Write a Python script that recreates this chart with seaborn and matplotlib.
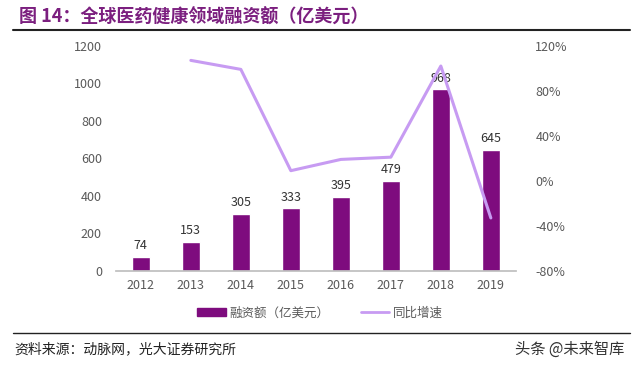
import numpy as np
import pandas as pd
import matplotlib
matplotlib.use("Agg")
import matplotlib.pyplot as plt
from matplotlib.lines import Line2D
from matplotlib.patches import Patch
import seaborn as sns

years = ["2012", "2013", "2014", "2015", "2016", "2017", "2018", "2019"]
financing = [74, 153, 305, 333, 395, 479, 968, 645]
growth_years = ["2013", "2014", "2015", "2016", "2017", "2018", "2019"]
growth = [107, 99, 9, 19, 21, 102, -33]

bar_color = "#7E0C7E"
line_color = "#C79BF2"
tick_color = "#595959"

sns.set_theme(style="white")
plt.rcParams['font.family'] = ['Noto Sans CJK SC', 'DejaVu Sans']

fig = plt.figure(figsize=(6.4, 3.66), dpi=100)
ax = fig.add_axes([0.181, 0.26, 0.625, 0.615])

df = pd.DataFrame({"year": years, "value": financing})
sns.barplot(data=df, x="year", y="value", color=bar_color, width=0.36,
            saturation=1, ax=ax)
for i, v in enumerate(financing):
    ax.text(i, v + 25, str(v), ha="center", va="bottom", fontsize=9, color="#333333")

ax.set_ylim(0, 1200)
ax.set_yticks(range(0, 1201, 200))
ax.set_xlim(-0.5, 7.5)
ax.set_xlabel("")
ax.set_ylabel("")
for s in ["top", "right", "left"]:
    ax.spines[s].set_visible(False)
ax.spines["bottom"].set_color("#BFBFBF")
ax.tick_params(axis="y", colors=tick_color, labelsize=9, length=0, pad=10)
ax.tick_params(axis="x", colors=tick_color, labelsize=9, length=0, pad=6)
ax.set_xticks(np.arange(-0.5, 8, 1), minor=True)
ax.tick_params(axis="x", which="minor", length=4, color="#BFBFBF", direction="out")

ax2 = ax.twinx()
gdf = pd.DataFrame({"pos": [years.index(y) for y in growth_years], "growth": growth})
sns.lineplot(data=gdf, x="pos", y="growth", color=line_color, linewidth=2.2, ax=ax2)
ax2.set_ylim(-80, 120)
ax2.set_yticks(range(-80, 121, 40))
ax2.set_yticklabels([f"{t}%" for t in range(-80, 121, 40)])
ax2.set_xlim(-0.5, 7.5)
ax2.set_ylabel("")
ax2.set_xlabel("")
for s in ["top", "right", "left", "bottom"]:
    ax2.spines[s].set_visible(False)
ax2.tick_params(axis="y", colors=tick_color, labelsize=9, length=0, pad=14)

# legend
handles = [Patch(color=bar_color, label="融资额（亿美元）"),
           Line2D([0], [0], color=line_color, lw=2, label="同比增速")]
fig.legend(handles=handles, loc="center", bbox_to_anchor=(0.5, 0.145), ncol=2,
           frameon=False, fontsize=9, handlelength=2.3, handleheight=0.5,
           columnspacing=2.5, handletextpad=0.3, labelcolor=tick_color)

# title and rules
fig.text(0.03, 0.952, "图 14：全球医药健康领域融资额（亿美元）", fontsize=13,
         fontweight="bold", color="#7B1F7F", va="center")
fig.add_artist(Line2D([0.02, 0.985], [0.918, 0.918], color="#222222", lw=1.5))
fig.add_artist(Line2D([0.02, 0.985], [0.09, 0.09], color="#222222", lw=1.0))
fig.text(0.022, 0.045, "资料来源：动脉网，光大证券研究所", fontsize=10,
         color="#222222", va="center")
fig.text(0.975, 0.045, "头条 @未来智库", fontsize=11, color="#333333",
         ha="right", va="center")

fig.savefig("out.png", dpi=100, facecolor="white")
